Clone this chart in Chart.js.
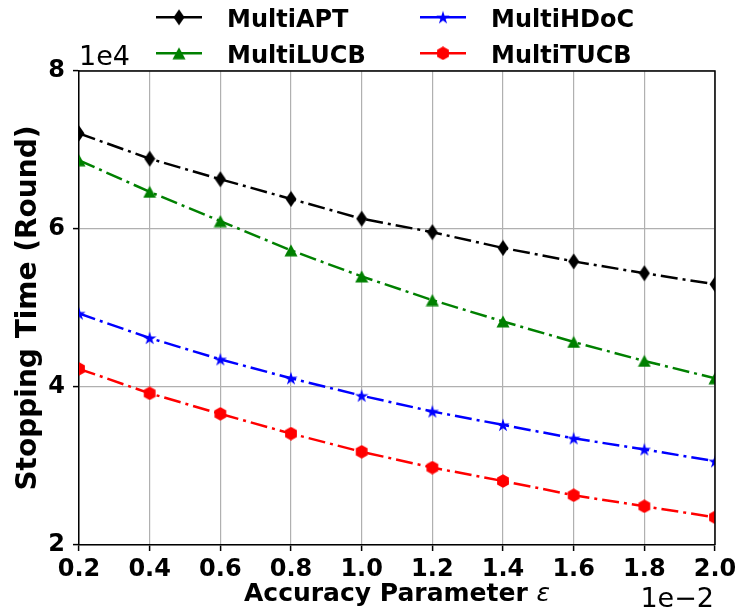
<!DOCTYPE html>
<html>
<head>
<meta charset="utf-8">
<script src="https://cdn.jsdelivr.net/npm/chart.js@4.4.1/dist/chart.umd.min.js"></script>
<style>
  html, body { margin: 0; padding: 0; background: #fff; }
  canvas { display: block; }
</style>
</head>
<body>
<canvas id="c" width="738" height="613"></canvas>
<script>
// ---- data ----
const epsilon = [0.002, 0.004, 0.006, 0.008, 0.010, 0.012, 0.014, 0.016, 0.018, 0.020];
const xTickLabels = ['0.2', '0.4', '0.6', '0.8', '1.0', '1.2', '1.4', '1.6', '1.8', '2.0'];
const yTickLabels = ['2', '4', '6', '8'];
const multiAPT  = [72100, 68900, 66300, 63800, 61300, 59600, 57600, 55900, 54400, 53000];
const multiLUCB = [68700, 64700, 61000, 57300, 54000, 51000, 48300, 45700, 43300, 41100];
const multiHDoC = [49300, 46200, 43500, 41100, 38900, 36900, 35200, 33500, 32100, 30600];
const multiTUCB = [42300, 39200, 36600, 34100, 31800, 29800, 28100, 26300, 24900, 23500];
const seriesNames = ['MultiAPT', 'MultiLUCB', 'MultiHDoC', 'MultiTUCB'];
const seriesColors = ['#000000', '#008000', '#0000ff', '#ff0000'];

// ---- marker images ----
function makeCanvas(w, h) {
  const c = document.createElement('canvas');
  c.width = w; c.height = h;
  return c;
}
function diamondMarker(color) {
  const c = makeCanvas(12, 17), g = c.getContext('2d');
  g.fillStyle = color;
  g.beginPath();
  g.moveTo(6, 0.5); g.lineTo(11.5, 8.5); g.lineTo(6, 16.5); g.lineTo(0.5, 8.5);
  g.closePath(); g.fill();
  return c;
}
function triangleMarker(color) {
  const c = makeCanvas(14, 13), g = c.getContext('2d');
  g.fillStyle = color;
  g.beginPath();
  g.moveTo(7, 0.5); g.lineTo(13.5, 12.5); g.lineTo(0.5, 12.5);
  g.closePath(); g.fill();
  return c;
}
function starMarker(color) {
  const c = makeCanvas(14, 14), g = c.getContext('2d');
  g.fillStyle = color;
  const R = 7, r = R * 0.382, cx = 7, cy = 7.6;
  g.beginPath();
  for (let i = 0; i < 10; i++) {
    const rad = (i % 2 === 0) ? R : r;
    const a = -Math.PI / 2 + i * Math.PI / 5;
    const x = cx + rad * Math.cos(a), y = cy + rad * Math.sin(a);
    if (i === 0) g.moveTo(x, y); else g.lineTo(x, y);
  }
  g.closePath(); g.fill();
  return c;
}
function hexMarker(color) {
  const c = makeCanvas(14, 14), g = c.getContext('2d');
  g.fillStyle = color;
  const R = 6.8, cx = 7, cy = 7;
  g.beginPath();
  for (let i = 0; i < 6; i++) {
    const a = -Math.PI / 2 + i * Math.PI / 3;
    const x = cx + R * Math.cos(a), y = cy + R * Math.sin(a);
    if (i === 0) g.moveTo(x, y); else g.lineTo(x, y);
  }
  g.closePath(); g.fill();
  return c;
}
const markers = [
  diamondMarker(seriesColors[0]),
  triangleMarker(seriesColors[1]),
  starMarker(seriesColors[2]),
  hexMarker(seriesColors[3])
];

const seriesValues = [multiAPT, multiLUCB, multiHDoC, multiTUCB];
const dashDot = [17, 5, 3, 5];

const datasets = seriesNames.map((name, i) => ({
  label: name,
  data: epsilon.map((x, k) => ({ x: x, y: seriesValues[i][k] })),
  borderColor: seriesColors[i],
  backgroundColor: seriesColors[i],
  borderWidth: 2.5,
  borderDash: dashDot,
  pointStyle: markers[i],
  pointRadius: 6,
  pointHoverRadius: 6,
  tension: 0,
  clip: 0,
  fill: false
}));

// ---- custom decorations: legend, spines, offset texts, x title ----
const decor = {
  id: 'decor',
  afterDraw(chart) {
    const ctx = chart.ctx;
    const a = chart.chartArea;
    ctx.save();
    // top & right spines
    ctx.strokeStyle = '#000';
    ctx.lineWidth = 1.5;
    ctx.setLineDash([]);
    ctx.beginPath();
    ctx.moveTo(a.left, a.top); ctx.lineTo(a.right, a.top); ctx.lineTo(a.right, a.bottom);
    ctx.stroke();

    // legend (2 columns, column-major order)
    const colLine = [[156, 202], [420, 466]];
    const colText = [227, 491];
    const rowY = [17.3, 53.3];
    ctx.font = 'bold 24px "DejaVu Sans"';
    ctx.textBaseline = 'alphabetic';
    ctx.textAlign = 'left';
    chart.data.datasets.forEach((ds, i) => {
      const col = Math.floor(i / 2), row = i % 2;
      const y = rowY[row];
      ctx.strokeStyle = ds.borderColor;
      ctx.lineWidth = 2.5;
      ctx.beginPath();
      ctx.moveTo(colLine[col][0], y); ctx.lineTo(colLine[col][1], y);
      ctx.stroke();
      const m = ds.pointStyle;
      const mx = (colLine[col][0] + colLine[col][1]) / 2;
      ctx.drawImage(m, mx - m.width / 2, y - m.height / 2);
      ctx.fillStyle = '#000';
      ctx.fillText(ds.label, colText[col], y + 9.2);
    });

    // offset texts
    ctx.font = '27px "DejaVu Sans"';
    ctx.fillStyle = '#000';
    ctx.textAlign = 'left';
    ctx.fillText('1e4', a.left, 65);
    ctx.textAlign = 'right';
    ctx.fillText('1e\u22122', a.right - 1, 607);

    // x axis title: bold text + italic epsilon
    const part1 = 'Accuracy Parameter ';
    const part2 = '\u03b5';
    const f1 = 'bold 25px "DejaVu Sans"';
    const f2 = 'italic 25px "DejaVu Sans"';
    ctx.font = f1; const w1 = ctx.measureText(part1).width;
    ctx.font = f2; const w2 = ctx.measureText(part2).width;
    const cx = (a.left + a.right) / 2;
    const x0 = cx - (w1 + w2) / 2;
    ctx.textAlign = 'left';
    ctx.font = f1; ctx.fillText(part1, x0, 601);
    ctx.font = f2; ctx.fillText(part2, x0 + w1, 601);
    ctx.restore();
  }
};

new Chart(document.getElementById('c'), {
  type: 'line',
  data: { datasets: datasets },
  options: {
    responsive: false,
    animation: false,
    events: [],
    layout: { padding: { top: 71, right: 23, left: 0, bottom: 0 } },
    plugins: {
      legend: { display: false },
      tooltip: { enabled: false }
    },
    scales: {
      x: {
        type: 'linear',
        min: 0.002,
        max: 0.020,
        afterFit(scale) { scale.height = 68; scale.paddingLeft = 0; scale.paddingRight = 0; },
        border: { display: true, color: '#000', width: 1.5 },
        grid: { color: '#b0b0b0', lineWidth: 1.2, tickColor: '#000', tickLength: 6, tickWidth: 1.5 },
        ticks: {
          stepSize: 0.002,
          autoSkip: false,
          maxRotation: 0,
          padding: 4,
          color: '#000',
          font: { family: 'DejaVu Sans', size: 24, weight: 'bold' },
          callback: (v, i) => xTickLabels[i]
        }
      },
      y: {
        type: 'linear',
        min: 20000,
        max: 80000,
        afterFit(scale) { scale.width = 79; scale.paddingTop = 0; scale.paddingBottom = 0; },
        border: { display: true, color: '#000', width: 1.5 },
        grid: { color: '#b0b0b0', lineWidth: 1.2, tickColor: '#000', tickLength: 6, tickWidth: 1.5 },
        ticks: {
          stepSize: 20000,
          padding: 8,
          color: '#000',
          font: { family: 'DejaVu Sans', size: 24, weight: 'bold' },
          callback: (v, i) => yTickLabels[i]
        },
        title: {
          display: true,
          text: 'Stopping Time (Round)',
          color: '#000',
          font: { family: 'DejaVu Sans', size: 28, weight: 'bold' },
          padding: { top: 12, bottom: 0 }
        }
      }
    }
  },
  plugins: [decor]
});
</script>
</body>
</html>
